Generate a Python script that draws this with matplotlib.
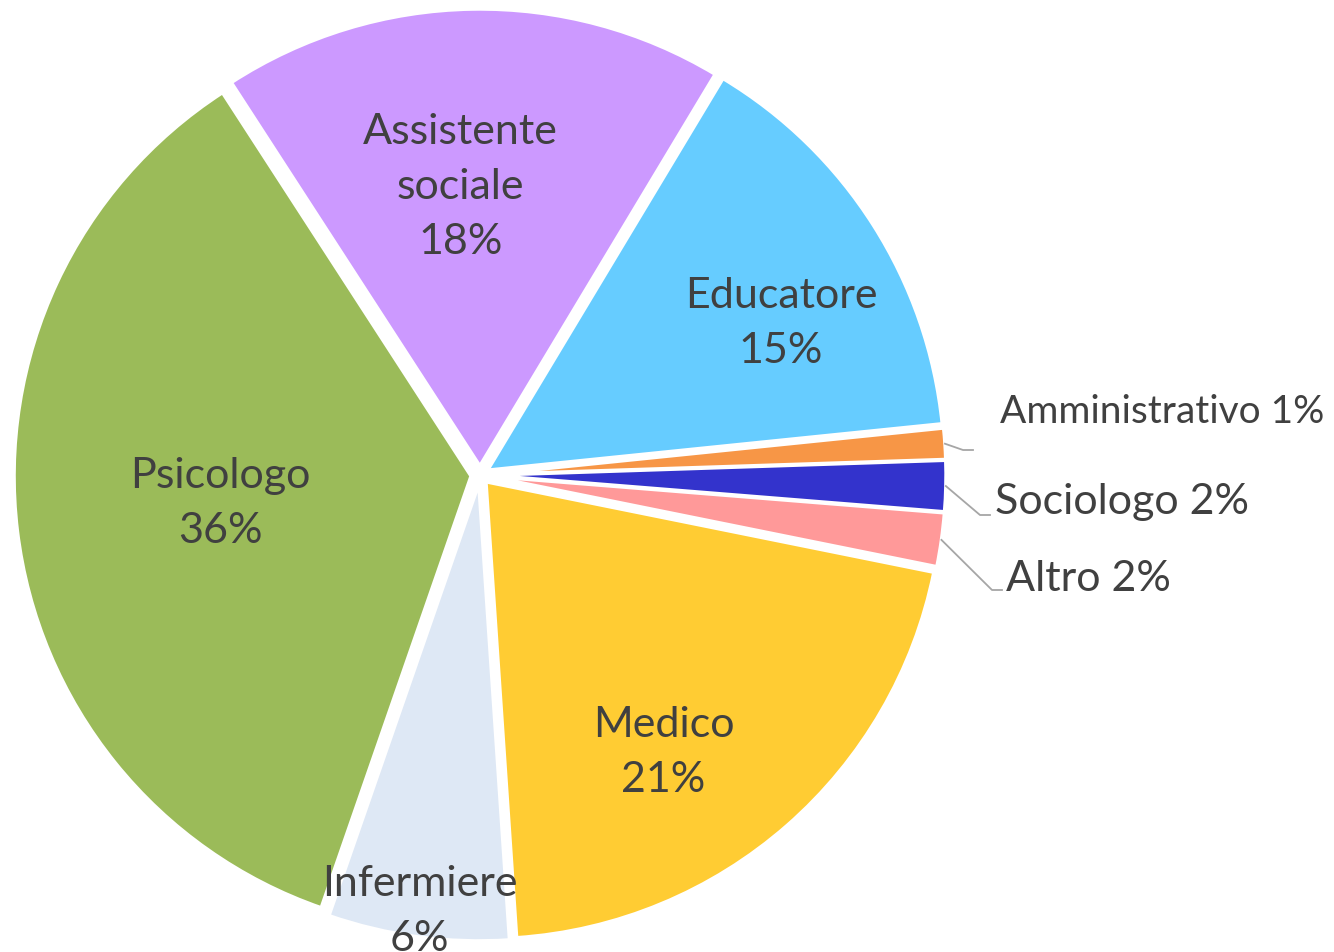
import matplotlib.pyplot as plt
import numpy as np

# slice data (clockwise from the Educatore slice)
categories = ['Educatore', 'Amministrativo', 'Sociologo', 'Altro',
              'Medico', 'Infermiere', 'Psicologo', 'Assistente sociale']
shares = [14.8, 1.1, 1.8, 1.9, 20.8, 6.4, 35.6, 17.8]
pct_text = ['15%', '1%', '2%', '2%', '21%', '6%', '36%', '18%']
inside_text = ['Educatore', None, None, None, 'Medico', 'Infermiere',
               'Psicologo', 'Assistente\nsociale']
colors = ['#66CCFF', '#F79646', '#3333CC', '#FF9999',
          '#FFCC33', '#DEE8F5', '#9BBB59', '#CC99FF']

# layout (pixels)
W, H = 1334, 952
cx, cy = 480, H - 475
R = 457
label_dist = [0.718, 0, 0, 0, 0.709, 0.945, 0.551, 0.612]
label_shift = [5.8, 0, 0, 0, 8, 0.2, 0.75, -3]   # degrees clockwise from mid angle
outside_xy = {1: (1000, 412), 2: (995, 502), 3: (1006, 579)}
outside_size = {1: 28, 2: 31, 3: 31}
elbow_xy = {1: (963, 450), 2: (980, 515), 3: (992, 590)}
line_end = {1: 973, 2: 990, 3: 1002}

txt_col = '#404040'
plt.rcParams['font.family'] = ['Lato', 'DejaVu Sans']

fig = plt.figure(figsize=(W / 100, H / 100), dpi=100)
ax = fig.add_axes([0, 0, 1, 1])
wedges, _ = ax.pie(shares, colors=colors, startangle=59, counterclock=False,
                   radius=R, center=(cx, cy), explode=[9] * len(shares),
                   wedgeprops=dict(edgecolor='white', linewidth=2.5))
ax.set_xlim(0, W)
ax.set_ylim(0, H)
ax.set_aspect('equal')
ax.axis('off')

for i, w in enumerate(wedges):
    mid = np.deg2rad((w.theta1 + w.theta2) / 2)
    wx, wy = w.center
    if inside_text[i] is not None:
        a = mid - np.deg2rad(label_shift[i])
        d = label_dist[i] * R
        ax.text(wx + d * np.cos(a), wy + d * np.sin(a),
                inside_text[i] + '\n' + pct_text[i], ha='center', va='center',
                fontsize=31, color=txt_col, linespacing=1.55)
    else:
        sx, sy = wx + R * np.cos(mid), wy + R * np.sin(mid)
        ex, ey = elbow_xy[i]
        ey = H - ey
        tx, ty = outside_xy[i]
        ax.plot([sx, ex, line_end[i]], [sy, ey, ey], color='#A6A6A6', lw=1.3)
        ax.text(tx, H - ty, categories[i] + ' ' + pct_text[i], ha='left',
                va='center', fontsize=outside_size[i], color=txt_col)

fig.savefig('out.png', dpi=100)
